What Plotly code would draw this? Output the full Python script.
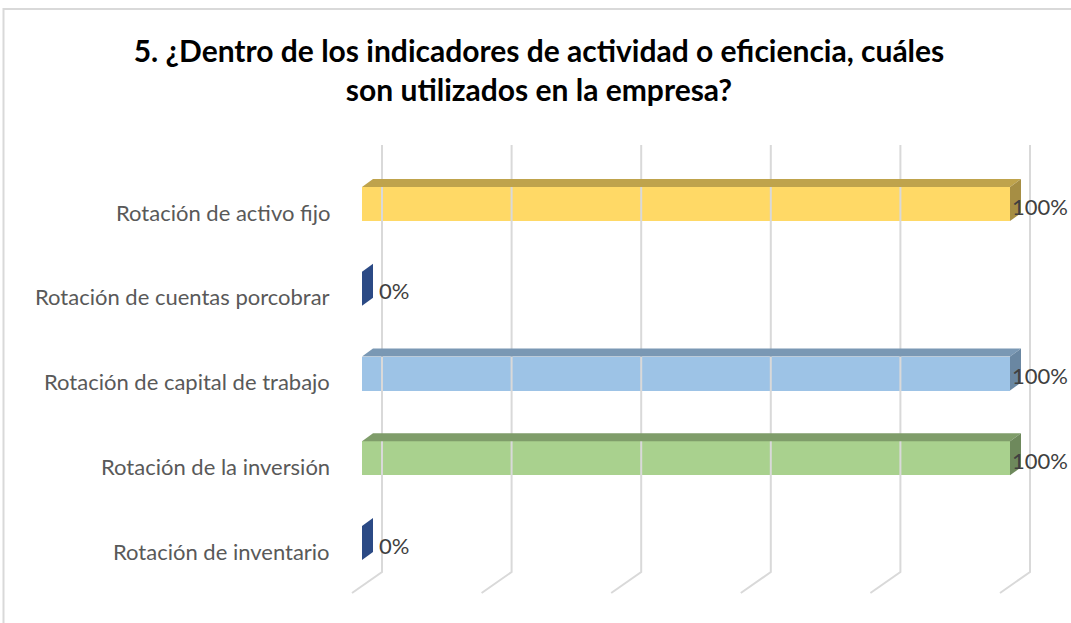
import plotly.graph_objects as go

# ---------------- data ----------------
categories = [
    "Rotación de activo fijo",
    "Rotación de cuentas porcobrar",
    "Rotación de capital de trabajo",
    "Rotación de la inversión",
    "Rotación de inventario",
]
values = [100, 0, 100, 100, 0]
value_labels = ["100%", "0%", "100%", "100%", "0%"]
grid_ticks = [0, 20, 40, 60, 80, 100]
title_text = ("5. ¿Dentro de los indicadores de actividad o eficiencia, cuáles"
              "<br>son utilizados en la empresa?")

# ---------------- styles ----------------
front_colors = ["#FFD966", "#4472C4", "#9DC3E6", "#A9D18E", "#4472C4"]
top_colors = ["#BFA34C", "#33559A", "#7A98B4", "#7F9D6A", "#33559A"]
side_colors = ["#A68E44", "#2B4A85", "#6A87A2", "#6E895C", "#2B4A85"]
grid_color = "#D9D9D9"
FONT = "Lato"

W, H = 1071, 623
L, R, T, B = 20, 11, 140, 23
X0_PX, PX_PER_PCT = 362.0, 6.48     # pixel of 0 % on the bar front plane
Y0_PX, PX_PER_CAT = 204.0, 84.75    # pixel of first category centre

xr = [(L - X0_PX) / PX_PER_PCT, (W - R - X0_PX) / PX_PER_PCT]
yr = [(H - B - Y0_PX) / PX_PER_CAT, (T - Y0_PX) / PX_PER_CAT]

# 3-D depth offsets (in axis units)
DX = 11 / PX_PER_PCT
DY = 8 / PX_PER_CAT
HALF = 17 / PX_PER_CAT
G_BACK = 20 / PX_PER_PCT
G_FRONT = -10 / PX_PER_PCT
G_TOP = (145 - Y0_PX) / PX_PER_CAT
G_BOT = (572 - Y0_PX) / PX_PER_CAT
G_FRONT_Y = (593 - Y0_PX) / PX_PER_CAT

fig = go.Figure()

# gridlines (back wall + floor)
for t in grid_ticks:
    fig.add_trace(go.Scatter(
        x=[t + G_BACK, t + G_BACK, t + G_FRONT],
        y=[G_TOP, G_BOT, G_FRONT_Y],
        mode="lines", line=dict(color=grid_color, width=2),
        hoverinfo="skip", showlegend=False))

pos = list(range(len(categories)))

# front faces
fig.add_trace(go.Bar(
    orientation="h", y=pos, x=values, base=0, width=2 * HALF,
    marker=dict(color=front_colors, line=dict(width=0)),
    showlegend=False, hoverinfo="skip"))

# top and side faces
for i, v in enumerate(values):
    c = pos[i]
    if v > 0:
        fig.add_trace(go.Scatter(
            x=[0, v, v + DX, DX, 0],
            y=[c - HALF, c - HALF, c - HALF - DY, c - HALF - DY, c - HALF],
            fill="toself", fillcolor=top_colors[i], mode="lines",
            line=dict(width=0, color=top_colors[i]),
            hoverinfo="skip", showlegend=False))
    fig.add_trace(go.Scatter(
        x=[v, v + DX, v + DX, v, v],
        y=[c - HALF, c - HALF - DY, c + HALF - DY, c + HALF, c - HALF],
        fill="toself", fillcolor=side_colors[i], mode="lines",
        line=dict(width=0, color=side_colors[i]),
        hoverinfo="skip", showlegend=False))

annotations = []
# category labels
for i, cat in enumerate(categories):
    annotations.append(dict(
        x=(332 - X0_PX) / PX_PER_PCT, y=pos[i], xref="x", yref="y",
        text=cat, showarrow=False, xanchor="right", yanchor="middle",
        yshift=-8, font=dict(family=FONT, size=22, color="#595959")))
# data labels
for i, v in enumerate(values):
    annotations.append(dict(
        x=v, y=pos[i], xref="x", yref="y", text=value_labels[i],
        showarrow=False, xanchor="left", yanchor="middle",
        xshift=0 if v > 0 else 15, yshift=-2,
        font=dict(family=FONT, size=22, color="#404040")))

pw = W - L - R
ph = H - T - B
shapes = [dict(
    type="rect", xref="paper", yref="paper",
    x0=(3.5 - L) / pw, x1=(1090 - L) / pw,
    y0=(H - B - 640) / ph, y1=(H - B - 9) / ph,
    line=dict(color=grid_color, width=2), fillcolor="rgba(0,0,0,0)",
    layer="below")]

fig.update_layout(
    width=W, height=H,
    margin=dict(l=L, r=R, t=T, b=B),
    paper_bgcolor="white", plot_bgcolor="white",
    title=dict(text="<b>" + title_text + "</b>", x=539 / W, xanchor="center",
               y=1 - 62 / H, yanchor="top",
               font=dict(family=FONT, size=30, color="#000000")),
    xaxis=dict(range=xr, visible=False, fixedrange=True),
    yaxis=dict(range=yr, visible=False, fixedrange=True),
    annotations=annotations,
    shapes=shapes,
    bargap=0,
)

fig.write_html("out.html",
               config={"displayModeBar": False},
               post_script="document.body.style.margin='0';"
                           "document.body.style.overflow='hidden';")
